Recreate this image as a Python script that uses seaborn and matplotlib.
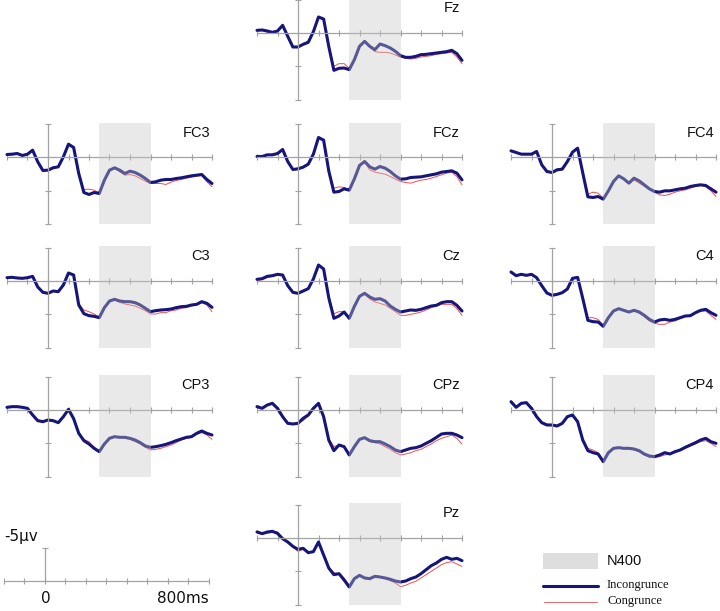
import numpy as np
import pandas as pd
import matplotlib
matplotlib.use("Agg")
import matplotlib.pyplot as plt
from matplotlib.patches import Rectangle
import seaborn as sns

# ---------------- data ----------------
TIME_MS = list(range(-200, 801, 25))
XTICKS = list(range(-200, 801, 100))
N400_WINDOW = (250, 500)
AMP_TICKS = [-5, 5, 10]
CONDITIONS = ["Incongrunce", "Congrunce"]
WINDOW_LABEL = "N400"

FZ_INC = [-0.4, -0.45, -0.3, -0.1, -0.3, -1.15, 0.5, 2.1, 2.1, 1.7, 1.4, -0.2, -2.4, -2.1, 2.0, 5.6, 5.3, 5.25, 5.5, 4.0, 2.0, 1.25, 2.0, 2.5, 1.65, 1.9, 2.25, 2.75, 3.4, 3.65, 3.65, 3.5, 3.25, 3.2, 3.1, 3.0, 2.9, 2.8, 2.6, 3.1, 4.1]
FZ_CON = [-0.4, -0.4, -0.1, 0.0, -0.3, -1.05, 0.5, 2.0, 2.1, 1.6, 1.2, -0.2, -2.3, -2.0, 2.0, 5.0, 4.6, 4.6, 5.3, 3.9, 1.9, 1.3, 2.1, 2.8, 2.9, 2.9, 3.0, 3.3, 3.6, 3.8, 3.9, 3.8, 3.6, 3.5, 3.4, 3.2, 3.1, 3.0, 2.9, 3.6, 4.6]

FC3_INC = [-0.45, -0.5, -0.6, -0.3, -0.5, -1.1, 0.65, 1.95, 1.9, 1.55, 1.4, -0.1, -2.0, -1.5, 2.4, 5.25, 5.55, 5.25, 5.4, 3.4, 1.9, 1.55, 1.9, 2.4, 2.05, 2.25, 2.65, 3.15, 3.75, 3.65, 3.4, 3.3, 3.3, 3.15, 3.05, 2.9, 2.75, 2.65, 2.55, 3.3, 3.9]
FC3_CON = [-0.45, -0.4, -0.5, -0.2, -0.5, -1.0, 0.7, 1.8, 1.8, 1.4, 1.5, -0.1, -1.9, -1.5, 2.3, 4.8, 4.75, 4.9, 5.3, 3.4, 1.9, 1.6, 2.15, 2.65, 2.55, 2.75, 3.15, 3.55, 3.9, 3.9, 3.9, 4.05, 3.7, 3.45, 3.3, 3.1, 2.95, 2.8, 2.7, 3.65, 4.4]

FCZ_INC = [-0.15, -0.15, -0.4, -0.4, -0.6, -1.2, 0.6, 1.8, 1.7, 1.45, 1.0, -0.5, -3.0, -2.6, 2.0, 5.2, 5.1, 4.7, 4.9, 3.2, 1.2, 0.6, 1.4, 1.75, 1.35, 1.6, 2.1, 2.75, 3.25, 3.2, 3.0, 2.95, 2.9, 2.75, 2.6, 2.45, 2.2, 2.1, 2.0, 2.35, 3.35]
FCZ_CON = [-0.1, -0.1, -0.3, -0.3, -0.5, -1.1, 0.6, 1.7, 1.6, 1.4, 1.0, -0.5, -2.9, -2.5, 2.0, 4.6, 4.4, 4.5, 4.8, 3.2, 1.3, 0.7, 1.85, 2.2, 2.35, 2.5, 2.85, 3.25, 3.6, 3.75, 3.85, 3.6, 3.4, 3.3, 3.1, 2.85, 2.6, 2.35, 2.2, 2.85, 4.1]

FC4_INC = [-1.0, -0.75, -0.5, -0.5, -0.5, -0.9, 1.1, 2.1, 2.25, 1.85, 1.75, 0.6, -0.8, -1.4, 2.3, 5.9, 6.0, 5.85, 6.25, 5.0, 3.6, 2.75, 3.2, 3.85, 3.1, 3.5, 4.1, 4.7, 5.1, 5.2, 5.0, 5.0, 4.85, 4.7, 4.6, 4.35, 4.2, 4.1, 4.2, 4.7, 5.2]
FC4_CON = [-0.9, -0.7, -0.5, -0.4, -0.5, -1.0, 1.0, 2.0, 2.2, 1.7, 1.6, 0.5, -0.8, -1.4, 2.2, 5.5, 5.2, 5.35, 6.1, 5.0, 3.6, 2.8, 3.2, 3.9, 3.4, 3.85, 4.3, 4.8, 5.2, 5.6, 5.7, 5.5, 5.2, 5.0, 4.85, 4.6, 4.35, 4.2, 4.35, 5.0, 5.85]

C3_INC = [-0.5, -0.55, -0.45, -0.4, -0.5, -0.7, 0.9, 1.7, 1.85, 1.5, 1.6, 0.6, -1.2, -0.9, 3.6, 4.9, 5.2, 5.3, 5.5, 4.0, 3.0, 2.75, 3.0, 3.1, 3.1, 3.25, 3.6, 4.1, 4.6, 4.45, 4.35, 4.3, 4.2, 4.0, 3.85, 3.8, 3.6, 3.5, 3.1, 3.35, 3.95]
C3_CON = [-0.5, -0.5, -0.4, -0.5, -0.4, -0.6, 0.9, 1.6, 1.75, 1.5, 1.7, 0.6, -1.1, -0.9, 3.4, 4.35, 4.6, 4.95, 5.4, 4.0, 3.1, 2.8, 3.2, 3.45, 3.6, 3.75, 4.1, 4.45, 4.95, 4.95, 4.75, 4.75, 4.45, 4.35, 4.1, 4.0, 3.75, 3.6, 3.25, 3.6, 4.6]

CZ_INC = [-0.25, -0.35, -0.7, -0.8, -1.0, -0.9, 0.7, 1.7, 1.85, 1.5, 1.15, -0.3, -2.4, -1.8, 2.5, 5.6, 5.25, 4.65, 5.6, 3.8, 2.3, 1.85, 2.4, 2.75, 2.65, 3.0, 3.75, 4.25, 4.65, 4.5, 4.35, 4.4, 4.25, 4.0, 3.75, 3.65, 3.25, 3.1, 3.1, 3.65, 4.5]
CZ_CON = [-0.1, -0.2, -0.5, -0.7, -0.9, -0.8, 0.7, 1.6, 1.8, 1.5, 1.2, -0.3, -2.3, -1.8, 2.4, 4.9, 4.6, 4.6, 5.5, 3.8, 2.3, 1.9, 2.7, 3.15, 3.35, 3.6, 4.1, 4.6, 5.15, 5.15, 5.0, 4.85, 4.65, 4.35, 4.0, 3.75, 3.5, 3.5, 3.5, 4.15, 5.15]

C4_INC = [-1.35, -0.8, -1.0, -0.85, -1.0, -0.5, 0.7, 1.8, 2.15, 2.0, 1.75, 1.2, -0.4, -0.55, 2.6, 5.9, 6.1, 6.15, 6.8, 5.5, 4.5, 4.15, 4.4, 4.65, 4.4, 4.65, 5.15, 5.75, 6.15, 5.85, 5.75, 5.9, 5.75, 5.5, 5.25, 5.2, 4.75, 4.4, 4.25, 4.75, 5.15]
C4_CON = [-1.2, -0.9, -0.9, -0.8, -1.1, -0.5, 0.7, 1.7, 2.1, 1.9, 1.8, 1.2, -0.4, -0.55, 2.5, 5.5, 5.5, 5.75, 6.6, 5.5, 4.5, 4.2, 4.4, 4.6, 4.45, 4.75, 5.35, 6.0, 6.35, 6.5, 6.5, 6.15, 6.0, 5.65, 5.35, 5.15, 4.85, 4.5, 4.5, 5.15, 5.75]

CP3_INC = [-0.4, -0.5, -0.5, -0.4, -0.25, 0.75, 1.6, 1.75, 1.5, 1.6, 1.9, 1.0, -0.1, 1.3, 3.5, 4.6, 5.1, 5.75, 6.25, 5.1, 4.25, 4.0, 4.1, 4.1, 4.25, 4.5, 4.9, 5.4, 5.6, 5.5, 5.35, 5.15, 4.9, 4.6, 4.35, 4.1, 4.0, 3.5, 3.15, 3.5, 3.75]
CP3_CON = [-0.4, -0.45, -0.45, -0.4, -0.3, 0.7, 1.5, 1.7, 1.5, 1.6, 1.8, 1.0, -0.1, 1.3, 3.4, 4.4, 4.75, 5.6, 6.1, 5.1, 4.1, 4.0, 4.1, 4.2, 4.4, 4.75, 5.1, 5.6, 6.0, 5.9, 5.75, 5.5, 5.25, 4.9, 4.5, 4.25, 4.1, 3.65, 3.4, 3.75, 4.4]

CPZ_INC = [-0.5, -0.25, -0.75, -1.0, -0.25, 1.0, 2.0, 2.1, 2.0, 1.25, 0.75, -0.25, -1.0, 1.0, 4.5, 6.1, 5.25, 5.5, 6.75, 5.5, 4.4, 4.15, 4.6, 4.75, 4.75, 5.1, 5.5, 6.0, 6.25, 6.0, 5.75, 5.65, 5.4, 5.0, 4.6, 4.1, 3.6, 3.5, 3.5, 3.75, 4.15]
CPZ_CON = [-0.7, -0.3, -0.8, -1.0, -0.3, 0.9, 1.9, 2.1, 2.0, 1.6, 0.9, -0.2, -0.9, 1.0, 4.3, 5.5, 5.25, 5.6, 6.6, 5.5, 4.4, 4.25, 4.75, 4.9, 5.1, 5.5, 5.9, 6.4, 6.75, 6.6, 6.4, 6.1, 5.9, 5.5, 5.1, 4.6, 4.25, 4.0, 3.75, 4.25, 5.1]

CP4_INC = [-1.25, -0.4, -1.0, -1.1, -0.25, 1.0, 1.9, 2.25, 2.25, 2.4, 2.0, 1.0, 0.75, 1.75, 4.5, 6.1, 6.4, 6.6, 7.75, 6.4, 5.75, 5.65, 5.75, 5.75, 5.85, 6.1, 6.6, 6.9, 7.0, 6.75, 6.4, 6.6, 6.25, 6.0, 5.6, 5.25, 4.9, 4.5, 4.25, 4.75, 5.0]
CP4_CON = [-1.0, -0.5, -1.0, -1.0, -0.3, 1.0, 1.8, 2.1, 2.2, 2.3, 2.0, 1.0, 0.8, 1.8, 4.4, 5.75, 6.0, 6.4, 7.5, 6.4, 5.7, 5.6, 5.7, 5.75, 6.0, 6.25, 6.75, 7.1, 7.1, 7.0, 6.75, 6.6, 6.4, 6.1, 5.75, 5.4, 5.1, 4.75, 4.6, 5.0, 5.5]

PZ_INC = [-0.9, -0.65, -0.9, -1.0, -0.7, 0.1, 0.6, 1.25, 1.7, 1.55, 2.2, 2.05, 0.6, 2.55, 4.5, 5.5, 5.35, 6.3, 7.35, 6.1, 5.6, 6.0, 6.1, 5.75, 5.85, 6.0, 6.2, 6.45, 6.6, 6.45, 6.1, 5.85, 5.35, 4.75, 4.15, 3.75, 3.2, 2.9, 3.2, 3.05, 3.4]
PZ_CON = [-1.1, -0.6, -0.7, -0.9, -0.9, 0.1, 0.7, 1.4, 2.0, 1.7, 2.2, 2.0, 0.5, 2.5, 4.4, 5.2, 5.35, 6.0, 7.1, 6.1, 5.6, 6.0, 6.1, 5.75, 5.85, 6.0, 6.4, 6.75, 7.3, 7.1, 6.75, 6.5, 6.0, 5.5, 5.0, 4.5, 4.0, 3.7, 3.55, 3.9, 4.25]

CHANNELS = ["Fz", "FC3", "FCz", "FC4", "C3", "Cz", "C4", "CP3", "CPz", "CP4", "Pz"]
SERIES = {
    "Fz": (FZ_INC, FZ_CON), "FC3": (FC3_INC, FC3_CON), "FCz": (FCZ_INC, FCZ_CON),
    "FC4": (FC4_INC, FC4_CON), "C3": (C3_INC, C3_CON), "Cz": (CZ_INC, CZ_CON),
    "C4": (C4_INC, C4_CON), "CP3": (CP3_INC, CP3_CON), "CPz": (CPZ_INC, CPZ_CON),
    "CP4": (CP4_INC, CP4_CON), "Pz": (PZ_INC, PZ_CON),
}

rows = []
for ch in CHANNELS:
    inc, con = SERIES[ch]
    for cond, vals in zip(CONDITIONS, (inc, con)):
        for t, v in zip(TIME_MS, vals):
            rows.append({"channel": ch, "condition": cond, "time": t, "uv": v})
df = pd.DataFrame(rows)

# ---------------- layout (pixels) ----------------
W, H = 720, 611
COL_X = [7, 257, 511]          # pixel x of t = -200 ms
ROW_Z = [33, 157.5, 281, 410, 538]   # pixel y of 0 uV
PANEL_POS = {
    "Fz": (1, 0), "FC3": (0, 1), "FCz": (1, 1), "FC4": (2, 1),
    "C3": (0, 2), "Cz": (1, 2), "C4": (2, 2),
    "CP3": (0, 3), "CPz": (1, 3), "CP4": (2, 3), "Pz": (1, 4),
}
PX_PER_MS = 205 / 1000
PX_PER_UV = 100 / 3 / 5
XLIM = (-215, 815)
YLIM = (10.6, -5.6)

NAVY = "#15157a"
RED = "#ec5050"
AXCOL = "#a3a3a3"
BOXCOL = "#c6c6c6"

sns.set_style("white")
plt.rcParams["font.family"] = ["Liberation Sans", "DejaVu Sans"]

fig = plt.figure(figsize=(W / 100, H / 100), dpi=100)


def make_axes(x_l, z):
    left = x_l + (XLIM[0] + 200) * PX_PER_MS
    width = (XLIM[1] - XLIM[0]) * PX_PER_MS
    top = z + YLIM[1] * PX_PER_UV
    height = (YLIM[0] - YLIM[1]) * PX_PER_UV
    ax = fig.add_axes([left / W, 1 - (top + height) / H, width / W, height / H])
    ax.set_xlim(*XLIM)
    ax.set_ylim(*YLIM)
    ax.patch.set_alpha(0)
    for s in ["top", "right"]:
        ax.spines[s].set_visible(False)
    for s in ["left", "bottom"]:
        ax.spines[s].set_position(("data", 0))
        ax.spines[s].set_color(AXCOL)
        ax.spines[s].set_linewidth(0.9)
    ax.spines["bottom"].set_bounds(XTICKS[0], XTICKS[-1])
    ax.set_xticks(XTICKS)
    ax.tick_params(bottom=True, left=True, direction="inout", length=5,
                   width=0.8, color=AXCOL, labelbottom=False, labelleft=False)
    ax.set_xlabel("")
    ax.set_ylabel("")
    return ax


for ch in CHANNELS:
    ci, ri = PANEL_POS[ch]
    ax = make_axes(COL_X[ci], ROW_Z[ri])
    ax.spines["left"].set_bounds(AMP_TICKS[0], AMP_TICKS[-1])
    ax.set_yticks(AMP_TICKS)
    sub = df[df.channel == ch]
    sns.lineplot(data=sub[sub.condition == "Congrunce"], x="time", y="uv",
                 color=RED, linewidth=0.7, ax=ax, legend=False, zorder=2)
    sns.lineplot(data=sub[sub.condition == "Incongrunce"], x="time", y="uv",
                 color=NAVY, linewidth=2.2, ax=ax, legend=False, zorder=2.1)
    ax.fill_between(N400_WINDOW, AMP_TICKS[0] - 0.2, AMP_TICKS[-1],
                    color=BOXCOL, alpha=0.38, linewidth=0, zorder=3)
    ax.text(790, -3.7, ch, ha="right", va="center", fontsize=10.5,
            family="Liberation Sans", color="#111111")
    ax.set_xlabel("")
    ax.set_ylabel("")
    ax.set_xlim(*XLIM)
    ax.set_ylim(*YLIM)

# scale bar
sax = make_axes(4, 581)
sax.spines["left"].set_bounds(AMP_TICKS[0], 0)
sax.set_yticks([AMP_TICKS[0]])
sax.text(-34, -6.6, "-5\u00b5v", ha="right", va="center", fontsize=11,
         family="DejaVu Sans", color="#111111")
sax.text(5, 2.7, "0", ha="center", va="center", fontsize=11,
         family="DejaVu Sans", color="#111111")
sax.text(800, 2.7, "800ms", ha="right", va="center", fontsize=11,
         family="DejaVu Sans", color="#111111")

# legend
lax = fig.add_axes([0, 0, 1, 1])
lax.set_xlim(0, W)
lax.set_ylim(H, 0)
lax.axis("off")
lax.patch.set_alpha(0)
lax.add_patch(Rectangle((543, 553), 55, 15.5, color="#dedede", lw=0))
lax.plot([543, 598], [586, 586], color=NAVY, lw=2.2, solid_capstyle="round")
lax.plot([544, 597], [602, 602], color=RED, lw=0.6)
lax.text(607, 561, WINDOW_LABEL, ha="left", va="center", fontsize=10.5,
         family="Liberation Sans", color="#111111")
lax.text(607, 585, CONDITIONS[0], ha="left", va="center", fontsize=9,
         family="Liberation Serif", color="#111111")
lax.text(607, 601, CONDITIONS[1], ha="left", va="center", fontsize=9,
         family="Liberation Serif", color="#111111")

fig.savefig("out.png", dpi=100)
